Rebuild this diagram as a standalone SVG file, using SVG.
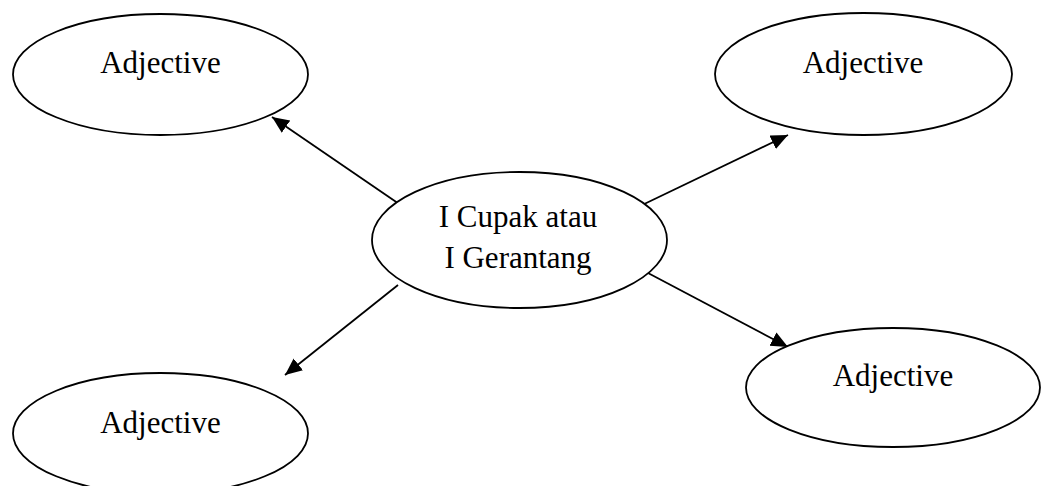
<svg xmlns="http://www.w3.org/2000/svg" width="1042" height="486" viewBox="0 0 1042 486">
<style>
.n ellipse{fill:#fff;stroke:#000;stroke-width:1.8}
.n text{font-family:"Liberation Serif","Times New Roman",serif;font-size:31px;fill:#000;text-anchor:middle}
.c line{stroke:#000;stroke-width:1.8}
</style>
<defs>
<marker id="ah" markerUnits="userSpaceOnUse" markerWidth="20" markerHeight="16" refX="17" refY="7.5" orient="auto">
<path d="M0,0 L17,7.5 L0,15 Z" fill="#000"/>
</marker>
</defs>
<rect width="1042" height="486" fill="#fff"/>
<g id="connectors" class="c">
<line x1="405" y1="208" x2="272" y2="117" marker-end="url(#ah)"/>
<line x1="638" y1="207" x2="788" y2="135" marker-end="url(#ah)"/>
<line x1="398" y1="285" x2="285" y2="375" marker-end="url(#ah)"/>
<line x1="648" y1="273" x2="788" y2="347" marker-end="url(#ah)"/>
</g>
<g id="node-top-left" class="n">
<ellipse cx="160.5" cy="74.5" rx="147.5" ry="60.5"/>
<text x="160.5" y="73">Adjective</text>
</g>
<g id="node-top-right" class="n">
<ellipse cx="863.5" cy="74" rx="148.5" ry="61"/>
<text x="863" y="73">Adjective</text>
</g>
<g id="node-center" class="n">
<ellipse cx="519.5" cy="240" rx="147.5" ry="68"/>
<text x="518" y="227">I Cupak atau</text>
<text x="518" y="268">I Gerantang</text>
</g>
<g id="node-bottom-right" class="n">
<ellipse cx="893" cy="387.5" rx="147" ry="59.5"/>
<text x="893" y="386">Adjective</text>
</g>
<g id="node-bottom-left" class="n">
<ellipse cx="160.5" cy="433.5" rx="147.5" ry="60.5"/>
<text x="160.5" y="433">Adjective</text>
</g>
</svg>
